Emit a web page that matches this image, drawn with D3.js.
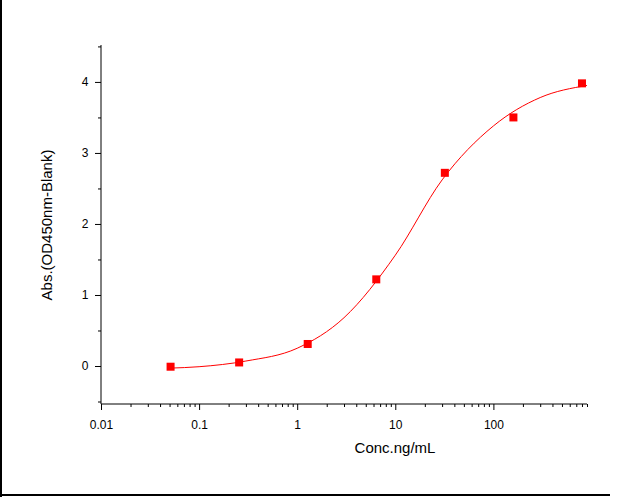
<!DOCTYPE html>
<html><head><meta charset="utf-8">
<script src="https://cdn.jsdelivr.net/npm/d3@7"></script>
<style>body{margin:0;background:#fff}text{font-family:"Liberation Sans",Arial,sans-serif}</style>
</head><body>
<svg id="chart" width="625" height="497"></svg>
<script>
// measured points
var concs = [0.0512, 0.256, 1.28, 6.4, 32, 160, 800];
var absVals = [-0.01, 0.05, 0.31, 1.22, 2.72, 3.50, 3.98];
// fitted curve
var curveX = [0.05, 0.1, 0.3, 1, 3, 10, 30, 100, 300, 900];
var curveY = [-0.03, -0.01, 0.07, 0.25, 0.68, 1.56, 2.62, 3.38, 3.78, 3.95];
var xTicks = [0.01, 0.1, 1, 10, 100];
var yTicks = [0, 1, 2, 3, 4];

var svg = d3.select("#chart");
var x = d3.scaleLog().domain([0.01, 900]).range([101, 587]);
var y = d3.scaleLinear().domain([-0.535, 4.52]).range([404, 45]);

// outer frame lines
svg.append("line").attr("x1", 1).attr("x2", 1).attr("y1", 0).attr("y2", 497).attr("stroke", "#000").attr("stroke-width", 2);
svg.append("line").attr("x1", 0).attr("x2", 610).attr("y1", 495).attr("y2", 495).attr("stroke", "#000").attr("stroke-width", 2);

// x minor ticks
var minor = [];
for (var e = -2; e <= 2; e++) for (var m = 2; m <= 9; m++) { var v = m * Math.pow(10, e); if (v <= 900) minor.push(v); }
svg.append("g").attr("transform", "translate(0,404)")
  .call(d3.axisBottom(x).tickValues(minor).tickFormat("").tickSize(3).tickSizeOuter(0))
  .call(function(g){ g.select(".domain").remove(); });
var xa = svg.append("g").attr("transform", "translate(0,404)")
  .call(d3.axisBottom(x).tickValues(xTicks).tickFormat(function(d){ return d3.format("~g")(d); }).tickSize(6).tickSizeOuter(0));
xa.select(".domain").attr("d", "M101,0H587");
xa.selectAll("text").attr("font-size", 12).attr("dy", "1.3em");

svg.append("g").attr("transform", "translate(101,0)")
  .call(d3.axisLeft(y).tickValues([-0.5, 0.5, 1.5, 2.5, 3.5, 4.5]).tickFormat("").tickSize(3).tickSizeOuter(0))
  .call(function(g){ g.select(".domain").remove(); });
var ya = svg.append("g").attr("transform", "translate(101,0)")
  .call(d3.axisLeft(y).tickValues(yTicks).tickFormat(d3.format("d")).tickSize(6).tickSizeOuter(0));
ya.select(".domain").attr("d", "M0,45V404");
ya.selectAll("text").attr("font-size", 12).attr("dx", "-0.3em");

svg.append("text").attr("x", 395).attr("y", 453).attr("text-anchor", "middle").attr("font-size", 15).text("Conc.ng/mL");
svg.append("text").attr("transform", "translate(52,225) rotate(-90)").attr("text-anchor", "middle").attr("font-size", 15).text("Abs.(OD450nm-Blank)");

var line = d3.line().x(function(d, i){ return x(curveX[i]); }).y(function(d){ return y(d); }).curve(d3.curveMonotoneX);
svg.append("path").attr("d", line(curveY)).attr("fill", "none").attr("stroke", "red").attr("stroke-width", 1);

svg.selectAll("rect.pt").data(absVals).enter().append("rect").attr("class", "pt")
  .attr("x", function(d, i){ return x(concs[i]) - 4; }).attr("y", function(d){ return y(d) - 4; })
  .attr("width", 8).attr("height", 8).attr("fill", "red");
</script>
</body></html>
